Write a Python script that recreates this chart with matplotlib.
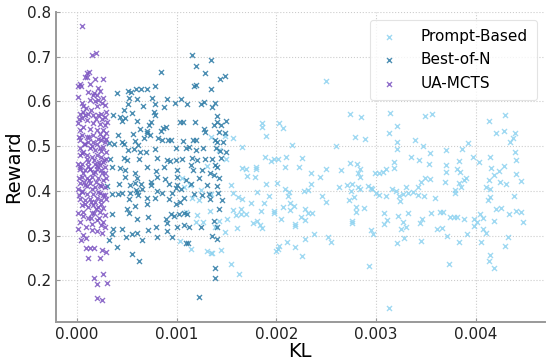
import numpy as np
from matplotlib import pyplot as plt
from matplotlib.ticker import FormatStrFormatter

# KL values in units of 1e-3, reward values
pb_kl = [2.497, 2.736, 2.846, 1.851, 1.851, 2.030, 2.070, 1.900, 1.562, 1.483,
         2.786, 2.886, 1.652, 2.159, 2.597, 1.881, 1.950, 1.980, 2.020, 2.099,
         2.259, 2.090, 2.229, 1.652, 1.692, 1.791, 1.791, 1.701, 1.781, 2.348,
         2.497, 2.647, 2.736, 2.806, 2.836, 2.816, 2.836, 2.438, 1.493, 1.343,
         1.423, 1.303, 1.055, 1.134, 1.095, 1.204, 1.333, 1.423, 1.194, 1.264,
         1.502, 1.383, 1.483, 1.035, 1.144, 1.303, 1.343, 1.443, 1.244, 1.154,
         1.224, 1.343, 1.075, 1.542, 1.900, 2.010, 1.562, 1.612, 1.652, 1.801,
         1.930, 1.741, 1.871, 2.090, 2.129, 2.119, 2.279, 2.318, 2.348, 2.458,
         2.497, 2.627, 2.706, 2.756, 2.746, 2.816, 2.836, 2.776, 2.726, 2.915,
         2.955, 1.562, 1.642, 1.592, 1.642, 1.692, 1.841, 1.980, 1.980, 2.070,
         2.139, 2.179, 2.139, 2.289, 2.318, 2.358, 2.249, 2.289, 2.050, 1.602,
         1.761, 1.801, 1.831, 1.851, 2.189, 2.189, 2.756, 2.756, 2.796, 2.796,
         2.876, 2.945, 2.378, 2.289, 2.109, 2.517, 2.547, 1.353, 2.030, 2.020,
         2.000, 2.189, 2.259, 1.542, 1.622, 2.925,
         3.134, 3.214, 3.124, 3.214, 3.214, 3.393, 3.492, 3.562, 3.473, 3.542,
         3.353, 3.433, 3.532, 3.701, 3.701, 3.701, 3.861, 3.920, 3.831, 3.811,
         3.841, 3.970, 4.030, 4.129, 4.288, 4.199, 4.279, 4.388, 4.368, 4.338,
         4.388, 4.398, 4.139, 4.279, 4.149, 4.229, 4.179, 4.398, 3.184, 3.184,
         3.094, 3.065, 2.985, 3.025, 3.492, 3.542, 3.881, 3.900, 4.129,
         2.945, 2.995, 3.025, 3.094, 3.154, 3.204, 3.234, 3.244, 3.274, 3.303,
         3.323, 3.373, 3.423, 3.453, 3.423, 3.483, 3.592, 3.691, 3.791, 3.791,
         3.831, 3.851, 4.099, 4.139, 4.139, 4.119, 4.239, 4.298, 4.378, 4.448,
         3.075, 3.104, 3.075, 3.224, 3.274, 3.323, 3.303, 3.254, 3.443, 3.463,
         3.552, 3.642, 3.672, 3.612, 3.662, 3.741, 3.781, 3.811, 3.881, 3.980,
         4.010, 4.040, 4.070, 3.980, 4.070, 4.099, 4.179, 4.199, 4.249, 4.328,
         4.398, 4.448, 4.468, 2.965, 3.214, 3.284, 3.453, 3.711, 3.831, 3.910,
         4.050, 4.318, 4.288, 4.139, 4.129, 4.179, 3.731, 3.124]
pb_reward = [.645, .571, .565, .551, .542, .551, .540, .522, .518, .522,
             .520, .516, .498, .502, .500, .475, .467, .471, .471, .475,
             .473, .453, .453, .451, .449, .453, .449, .433, .431, .440,
             .449, .446, .462, .460, .449, .440, .431, .431, .471, .520,
             .491, .455, .429, .413, .353, .346, .355, .333, .330, .330,
             .337, .319, .308, .288, .270, .266, .261, .268, .402, .384,
             .379, .393, .408, .413, .415, .417, .395, .386, .382, .397,
             .388, .373, .373, .404, .397, .388, .400, .402, .415, .388,
             .375, .408, .413, .415, .400, .408, .404, .386, .379, .411,
             .404, .357, .359, .346, .348, .348, .355, .355, .350, .364,
             .373, .366, .357, .359, .350, .350, .342, .335, .337, .317,
             .328, .333, .324, .317, .326, .321, .333, .328, .364, .353,
             .362, .312, .304, .292, .286, .297, .286, .261, .277, .270,
             .266, .275, .254, .237, .214, .232,
             .574, .545, .529, .509, .493, .513, .567, .571, .500, .484,
             .475, .469, .460, .491, .458, .442, .493, .507, .467, .449,
             .442, .475, .464, .556, .569, .529, .533, .529, .518, .509,
             .487, .469, .475, .455, .451, .444, .435, .438, .464, .451,
             .449, .442, .440, .440, .429, .426, .424, .429, .424,
             .406, .395, .391, .388, .404, .400, .388, .377, .393, .408,
             .395, .397, .408, .420, .391, .388, .384, .420, .402, .395,
             .417, .408, .408, .404, .386, .379, .420, .415, .388, .422,
             .350, .335, .326, .344, .330, .350, .319, .315, .328, .337,
             .350, .353, .353, .315, .317, .342, .342, .342, .337, .337,
             .330, .348, .339, .321, .315, .306, .333, .359, .362, .348,
             .355, .353, .330, .304, .283, .295, .288, .299, .286, .304,
             .286, .297, .277, .257, .243, .228, .237, .138]

bon_kl = [1.154, 1.194, 1.343, .846, 1.284, 1.433, 1.483, 1.194, 1.174, 1.343,
          .398, .507, .537, .587, .647, .706, .786, .517, .607, .756,
          .905, 1.045, .985, 1.104, 1.274, 1.244, 1.353, .507, .667, .786,
          .876, .468, .547, .776, .786, .358, .428, .478, .448, .597,
          .746, .726, 1.035, 1.065, 1.184, 1.403, 1.403, 1.373, 1.443, .866,
          .896, .846, .637, .706, .706, .677, .736, 1.274, 1.284, 1.423,
          .557, .408, .318, .368, .448, .468, .577, .617, .816, .856,
          .915, .945, 1.065, 1.164, 1.194, 1.383, 1.403, 1.463, .507, .567,
          .637, .697, .786, .995, 1.095, 1.124, 1.194, 1.264, 1.393, .328,
          .468, .498, .627, .806, .905, .935, .995, 1.055, 1.154, 1.204,
          1.284, 1.353, .348, .428, .478, .577, .706, .796, .876, 1.005,
          1.144, 1.164, .478, .607, .746, .806, .886, 1.005, 1.095, 1.224,
          1.254, 1.333, 1.373, 1.423, .418, .527, .647, .746, .925, 1.005,
          1.144, 1.303, 1.383, 1.493, 1.483, 1.493, 1.433, 1.443, 1.383, 1.403,
          .577, .299, .348, .408, .448, .527, .587, .607, .617, .657,
          .517, .706, .786, .806, .856, .955, .995, 1.045, 1.174, 1.254,
          1.403, 1.413, 1.453, 1.333, .706, .925, .995, 1.035, 1.075, .577,
          .498, .517, .348, .945, .975, 1.025, 1.075, 1.104, .716, .896,
          .597, .905, 1.005, 1.075, 1.124, 1.244, 1.423, 1.373, 1.403, .796,
          .716, .905, .358, .448, .348, .547, .597, .488, .657, .806,
          .955, .318, 1.353, 1.403, 1.095, 1.114, .398, .547, .627, 1.383,
          1.383, 1.224, 1.323]
bon_reward = [.703, .679, .692, .665, .663, .650, .656, .636, .634, .629,
              .618, .623, .621, .629, .629, .629, .634, .607, .605, .607,
              .605, .605, .596, .594, .598, .594, .587, .594, .589, .594,
              .587, .580, .574, .576, .569, .569, .565, .563, .556, .556,
              .554, .547, .554, .554, .554, .567, .554, .547, .547, .540,
              .542, .533, .538, .533, .529, .518, .525, .538, .531, .531,
              .527, .525, .507, .504, .509, .504, .511, .502, .518, .513,
              .513, .513, .511, .513, .513, .513, .509, .509, .491, .493,
              .487, .487, .493, .496, .496, .498, .491, .496, .496, .471,
              .473, .469, .471, .473, .469, .467, .469, .471, .473, .469,
              .471, .471, .453, .451, .446, .440, .453, .444, .453, .446,
              .458, .446, .431, .429, .420, .431, .426, .431, .424, .429,
              .446, .440, .435, .429, .415, .413, .415, .413, .415, .413,
              .415, .413, .596, .556, .529, .487, .489, .473, .458, .453,
              .417, .411, .393, .393, .395, .395, .402, .397, .391, .404,
              .382, .384, .384, .400, .395, .395, .406, .404, .393, .391,
              .411, .395, .379, .382, .371, .382, .371, .375, .384, .366,
              .359, .350, .348, .348, .344, .348, .350, .348, .342, .337,
              .337, .328, .319, .324, .319, .319, .359, .333, .319, .319,
              .312, .310, .315, .315, .304, .304, .306, .297, .290, .297,
              .297, .290, .299, .292, .283, .283, .275, .259, .243, .228,
              .205, .163, .393]

ua_kl = [.053, .146, .189, .103, .119, .080, .103, .179, .262, .030,
         .036, .113, .156, .212, .229, .196, .013, .046, .129, .179,
         .212, .255, .279, .262, .063, .030, .080, .113, .046, .013,
         .096, .163, .212, .245, .295, .279, .063, .163, .030, .129,
         .196, .262, .279, .305, .046, .096, .163, .229, .262, .295,
         .030, .080, .113, .163, .196, .245, .279, .295, .030, .063,
         .129, .179, .229, .262, .289, .030, .096, .146, .196, .245,
         .295, .046, .113, .179, .229, .262, .030, .129, .196, .279,
         .030, .080, .129, .179, .245, .279, .046, .096, .146, .212,
         .262, .030, .080, .129, .179, .229, .279, .046, .096, .163,
         .212, .262, .030, .080, .129, .179, .245, .295, .046, .113,
         .163, .212, .262, .063, .146, .229, .279, .136, .196, .262,
         .013, .063, .090, .040, .146, .252, .245, .285, .086, .129,
         .169, .113, .229, .255, .289, .169, .262, .202, .302, .202,
         .252,
         .020, .070, .120, .150, .210, .240, .050, .100, .170, .220,
         .270, .015, .060, .110, .160, .200, .250, .290, .025, .075,
         .120, .190, .240, .010, .055, .105, .150, .200, .230, .280,
         .020, .085, .140, .190, .240, .010, .060, .110, .170, .220,
         .030, .090, .150, .200, .020, .090, .140, .190, .230, .060,
         .170, .205, .250, .010, .135]
ua_reward = [.769, .705, .709, .664, .666, .655, .655, .651, .650, .638,
             .635, .621, .615, .630, .623, .615, .610, .597, .603, .600,
             .603, .597, .593, .608, .577, .573, .569, .573, .562, .551,
             .558, .569, .569, .573, .577, .565, .543, .551, .536, .539,
             .536, .536, .547, .554, .525, .521, .525, .528, .521, .530,
             .513, .506, .510, .510, .506, .513, .510, .517, .495, .487,
             .495, .491, .495, .498, .487, .480, .472, .476, .480, .476,
             .472, .461, .465, .461, .458, .465, .454, .450, .450, .454,
             .450, .446, .450, .443, .446, .439, .432, .428, .432, .428,
             .424, .417, .413, .417, .409, .413, .409, .398, .394, .394,
             .398, .391, .383, .380, .383, .376, .380, .383, .368, .365,
             .368, .365, .361, .353, .350, .353, .346, .339, .335, .331,
             .314, .301, .294, .290, .313, .305, .324, .320, .273, .273,
             .273, .251, .251, .268, .263, .206, .214, .191, .194, .161,
             .156,
             .520, .505, .520, .500, .515, .490, .485, .480, .470, .465,
             .470, .460, .440, .455, .440, .455, .440, .430, .430, .420,
             .425, .420, .410, .405, .400, .410, .405, .385, .395, .390,
             .390, .370, .375, .360, .370, .350, .345, .340, .350, .340,
             .330, .320, .325, .310, .560, .585, .580, .560, .550, .590,
             .620, .590, .560, .635, .640]

series = [
    ("Prompt-Based", pb_kl, pb_reward, "#8fd3f0"),
    ("Best-of-N", bon_kl, bon_reward, "#2f7ca6"),
    ("UA-MCTS", ua_kl, ua_reward, "#7e57c2"),
]

fig = plt.figure(figsize=(5.46, 3.6), dpi=100)
ax = fig.add_axes([0.1026, 0.1056, 0.895, 0.861])

for name, kl, rw, col in series:
    ax.scatter(np.array(kl) * 1e-3, rw, marker="x", s=13, linewidths=1.0,
               color=col, alpha=0.85, label=name)

ax.set_xlim(-0.00021, 0.00469)
ax.set_ylim(0.107, 0.80)
ax.set_xticks([0.000, 0.001, 0.002, 0.003, 0.004])
ax.set_yticks([0.2, 0.3, 0.4, 0.5, 0.6, 0.7, 0.8])
ax.xaxis.set_major_formatter(FormatStrFormatter("%.3f"))
ax.yaxis.set_major_formatter(FormatStrFormatter("%.1f"))

ax.grid(True, linestyle=":", color="#cccccc", linewidth=0.8)
ax.set_axisbelow(True)
for s in ["top", "right"]:
    ax.spines[s].set_visible(False)
for s in ["left", "bottom"]:
    ax.spines[s].set_color("#999999")
    ax.spines[s].set_linewidth(1.4)
ax.tick_params(direction="in", length=3, color="#999999", labelsize=11,
               labelcolor="#222222")

ax.set_xlabel("KL", fontsize=14, labelpad=0)
ax.set_ylabel("Reward", fontsize=14, labelpad=3)

leg = ax.legend(loc="upper right", fontsize=11, frameon=True, fancybox=True,
                borderpad=0.6, handlelength=1.2, handletextpad=1.5,
                labelspacing=0.55, borderaxespad=0.5)
leg.get_frame().set_edgecolor("#dddddd")
leg.get_frame().set_linewidth(0.8)

fig.savefig("out.png", dpi=100)
